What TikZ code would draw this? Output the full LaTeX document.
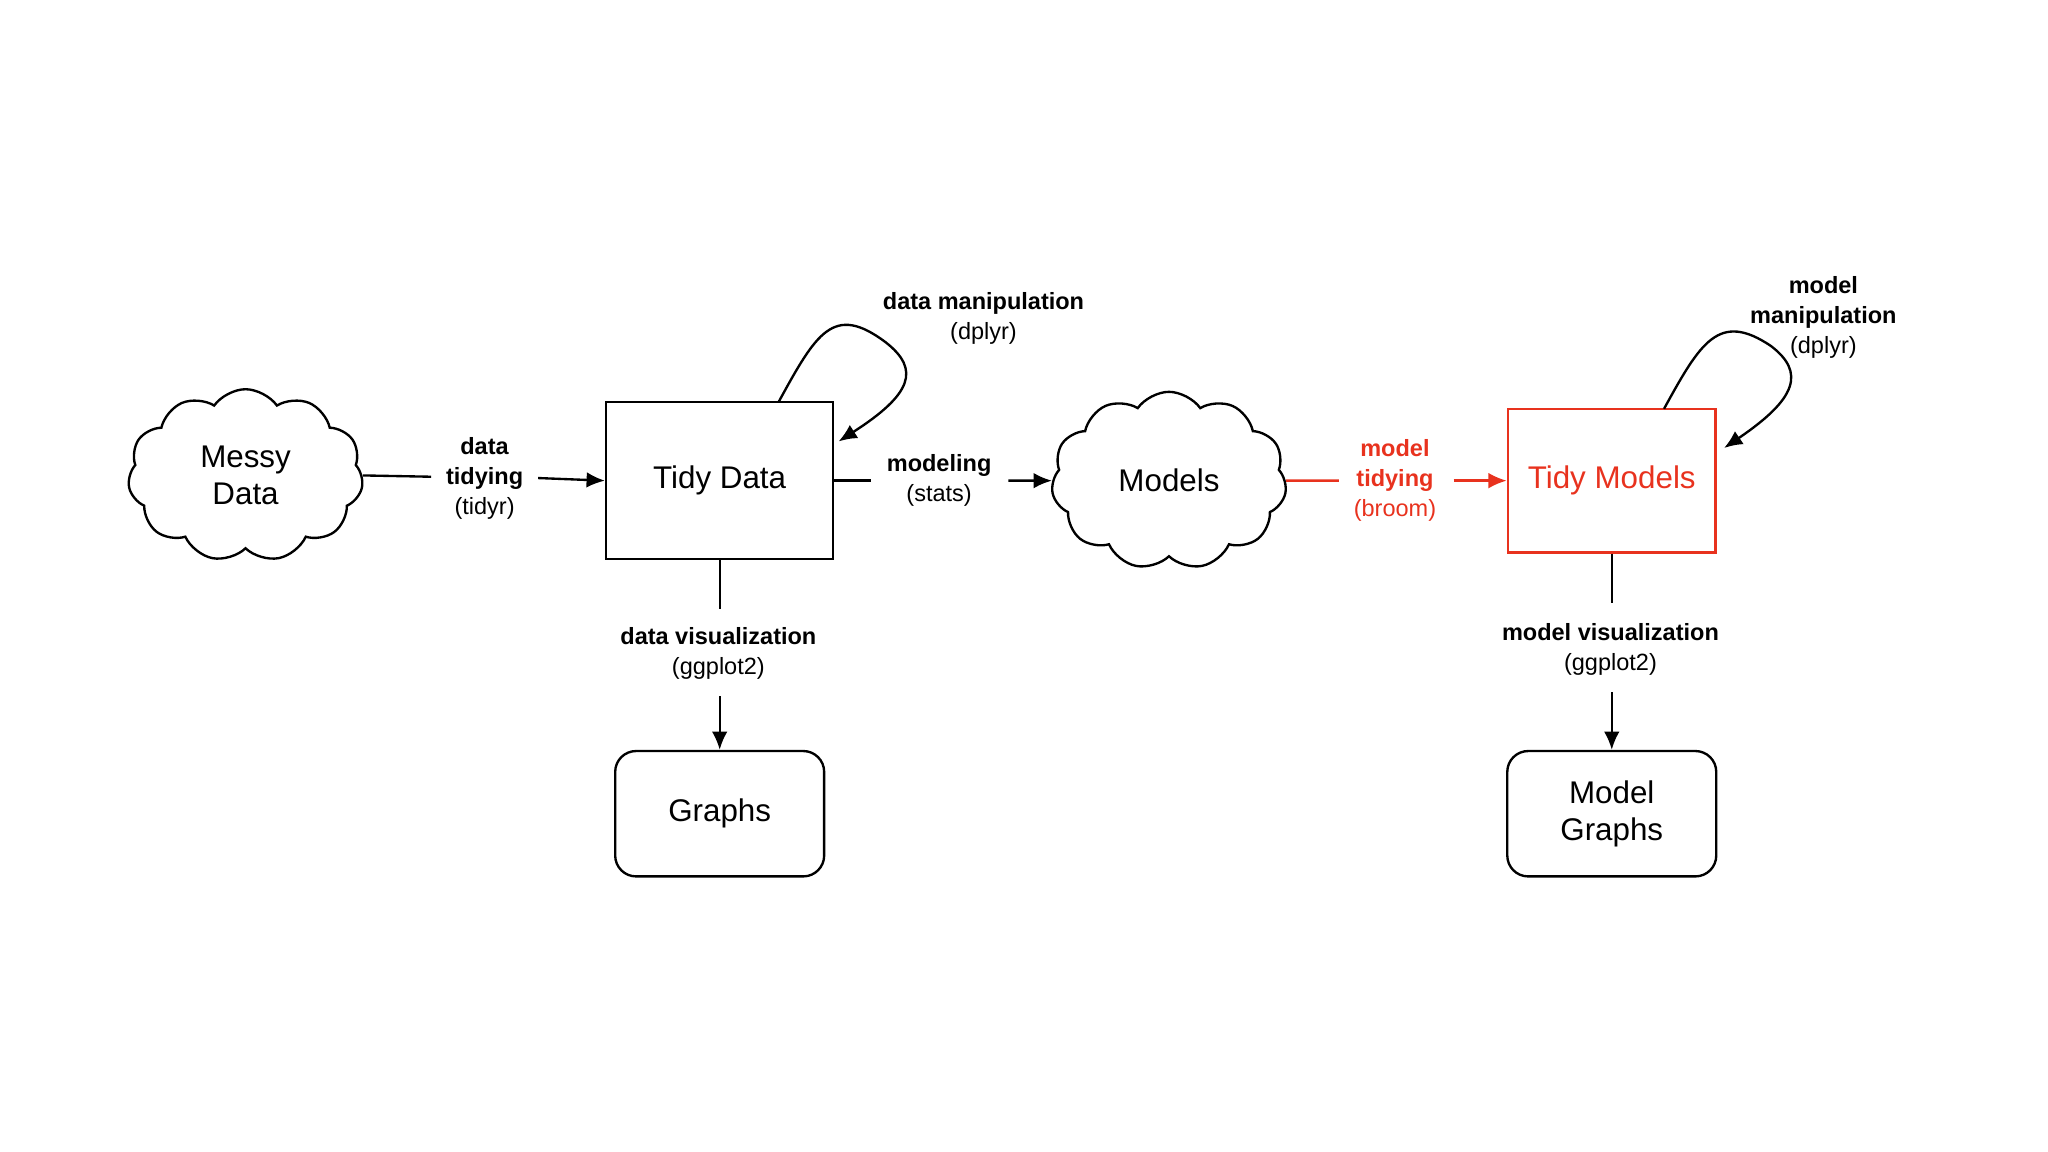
\documentclass[tikz,border=0pt]{standalone}
\usepackage{fontspec}
\setmainfont{Liberation Sans}
\usetikzlibrary{shapes.symbols,arrows.meta}
\definecolor{tred}{HTML}{E8321E}
\begin{document}
\begin{tikzpicture}[x=0.5pt,y=-0.5pt,
  big/.style={font=\fontsize{12}{14}\selectfont, align=center},
  lab/.style={font=\fontsize{9}{11.5}\selectfont, align=center},
  box/.style={draw, line width=0.9pt, big},
  cl/.style={cloud, cloud puffs=11, cloud puff arc=110, aspect=1.4, draw, line width=0.9pt, big, inner sep=0pt},
  arr/.style={-{Latex[length=7pt,width=6pt]}, line width=0.9pt},
  ln/.style={line width=0.9pt}]
\useasboundingbox (0,0) rectangle (1568,882);
\node[cl, minimum width=90pt, minimum height=66pt] (md) at (188,364) {Messy\\Data};
\node[box, minimum width=87pt, minimum height=60pt] (td) at (551,368) {Tidy Data};
\node[cl, minimum width=90pt, minimum height=68pt] (mo) at (895,368) {Models};
\node[box, draw=tred, text=tred, minimum width=79.5pt, minimum height=55pt] (tm) at (1234,368) {Tidy Models};
\node[box, rounded corners=8pt, minimum width=80pt, minimum height=48pt] (gr) at (551,623) {Graphs};
\node[box, rounded corners=8pt, minimum width=80pt, minimum height=48pt] (mg) at (1234,623) {Model\\Graphs};

\node[lab] (l1) at (371,366) {\textbf{data}\\\textbf{tidying}\\(tidyr)};
\node[lab] (l2) at (719,368) {\textbf{modeling}\\(stats)};
\node[lab, text=tred] (l3) at (1068,368) {\textbf{model}\\\textbf{tidying}\\(broom)};
\node[lab] (l4) at (550,500) {\textbf{data visualization}\\(ggplot2)};
\node[lab] (l5) at (1233,497) {\textbf{model visualization}\\(ggplot2)};
\node[lab] (l6) at (753,244) {\textbf{data manipulation}\\(dplyr)};
\node[lab] (l7) at (1396,243) {\textbf{model}\\\textbf{manipulation}\\(dplyr)};

\coordinate (a1) at (330,365); \coordinate (b1) at (412,366);
\coordinate (a2) at (667,368); \coordinate (b2) at (772,368);
\coordinate (a3) at (1025,368); \coordinate (b3) at (1113,368);
\coordinate (a4) at (551,466); \coordinate (b4) at (551,533);
\coordinate (a5) at (1234,462); \coordinate (b5) at (1234,530);

\draw[ln] (md.east) -- (a1);
\draw[arr] (b1) -- (td.west);
\draw[ln] (td.east) -- (a2);
\draw[arr] (b2) -- (mo.west);
\draw[ln, tred] (mo.east) -- (a3);
\draw[arr, tred] (b3) -- (tm.west);
\draw[ln] (td.south) -- (a4);
\draw[arr] (b4) -- (gr.north);
\draw[ln] (tm.south) -- (a5);
\draw[arr] (b5) -- (mg.north);

\coordinate (s1) at (596,308); \coordinate (e1) at (642,338);
\draw[arr] (s1) .. controls (625,255) and (638,232) .. (678,262) .. controls (705,283) and (698,302) .. (e1);
\coordinate (s2) at (1274,313); \coordinate (e2) at (1320,343);
\draw[arr] (s2) .. controls (1302,262) and (1316,238) .. (1356,265) .. controls (1382,285) and (1376,305) .. (e2);
\end{tikzpicture}
\end{document}
